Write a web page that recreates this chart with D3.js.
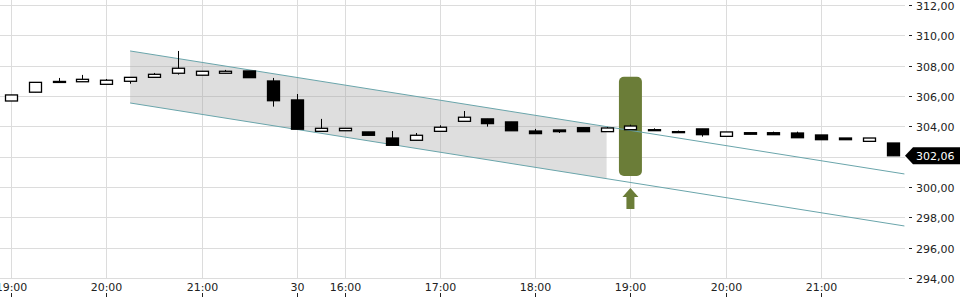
<!DOCTYPE html>
<html>
<head>
<meta charset="utf-8">
<script src="https://cdn.jsdelivr.net/npm/d3@7/dist/d3.min.js"></script>
<style>
  body { margin: 0; background: #fff; }
  svg { display: block; font-family: "DejaVu Sans", sans-serif; }
</style>
</head>
<body>
<svg id="chart" width="960" height="300"></svg>
<script>
// 15-minute candles, index 0 = 19:00 on day 29, index 12 = 15:30 on day 30
const opens  = [305.67, 306.25, 306.90, 306.94, 306.77, 306.97, 307.23, 307.50, 307.37, 307.50,
                307.65, 306.99, 305.74, 303.67, 303.71, 303.63, 303.23, 303.08, 303.67, 304.33,
                304.49, 304.29, 303.69, 303.76, 303.91, 303.65, 303.78, 303.74, 303.60, 303.83,
                303.34, 303.58, 303.58, 303.56, 303.43, 303.23, 303.01, 302.90];
const closes = [306.07, 306.90, 306.96, 307.10, 307.04, 307.23, 307.43, 307.83, 307.63, 307.63,
                307.21, 305.69, 303.81, 303.87, 303.87, 303.41, 302.75, 303.41, 303.94, 304.60,
                304.18, 303.71, 303.52, 303.65, 303.65, 303.89, 304.02, 303.78, 303.65, 303.45,
                303.63, 303.48, 303.45, 303.25, 303.12, 303.12, 303.23, 302.06];
const highs  = [306.07, 306.90, 307.19, 307.39, 307.12, 307.23, 307.52, 308.97, 307.63, 307.72,
                307.65, 307.19, 306.13, 304.49, 303.87, 303.63, 303.69, 303.56, 304.07, 305.01,
                304.49, 304.29, 303.83, 303.76, 303.91, 303.96, 304.11, 303.87, 303.72, 303.83,
                303.63, 303.58, 303.65, 303.65, 303.43, 303.23, 303.23, 302.90];
const lows   = [305.67, 306.25, 306.90, 306.94, 306.77, 306.81, 307.23, 307.41, 307.37, 307.50,
                307.21, 305.30, 303.81, 303.67, 303.71, 303.41, 302.75, 303.08, 303.67, 304.33,
                303.98, 303.71, 303.52, 303.56, 303.65, 303.65, 303.78, 303.74, 303.60, 303.32,
                303.34, 303.48, 303.45, 303.25, 303.12, 303.12, 303.01, 302.06];

const tickIdx    = [0, 4, 8, 12, 14, 18, 22, 26, 30, 34];
const tickLabels = ['19:00', '20:00', '21:00', '30', '16:00', '17:00', '18:00', '19:00', '20:00', '21:00'];
const priceTicks = [294, 296, 298, 300, 302, 304, 306, 308, 310, 312];

// trend channel: [index, upper, lower]
const channelStart = [5, 308.97, 305.54];
const channelEnd   = [37.5, 300.86, 297.43];
const shadeEndIdx  = 25;

// signal marker
const signalIdx = 26;
const signalTop = 307.27, signalBottom = 300.73;
const lastPrice = 302.06;

const svg = d3.select('#chart');
const x = d3.scaleLinear().domain([0, 37]).range([11, 892.5]);
const y = d3.scaleLinear().domain([294, 312]).range([278, 5]);
const fmt = v => d3.format('.2f')(v).replace('.', ',');
const PLOT_R = 905;

// grid
const grid = svg.append('g');
grid.selectAll('line.h').data(priceTicks).join('line')
  .attr('x1', 0).attr('x2', PLOT_R)
  .attr('y1', d => Math.round(y(d)) + 0.5).attr('y2', d => Math.round(y(d)) + 0.5)
  .attr('stroke', '#dcdcdc');
grid.selectAll('line.v').data(tickIdx).join('line')
  .attr('x1', d => Math.round(x(d)) + 0.5).attr('x2', d => Math.round(x(d)) + 0.5)
  .attr('y1', 0).attr('y2', 278)
  .attr('stroke', '#dcdcdc');

// channel shade (only up to shadeEndIdx)
const lerp = (a, b, t) => a + (b - a) * t;
const tEnd = (shadeEndIdx - channelStart[0]) / (channelEnd[0] - channelStart[0]);
const shadePts = [
  [x(channelStart[0]), y(channelStart[1])],
  [x(shadeEndIdx), y(lerp(channelStart[1], channelEnd[1], tEnd))],
  [x(shadeEndIdx), y(lerp(channelStart[2], channelEnd[2], tEnd))],
  [x(channelStart[0]), y(channelStart[2])]
];
svg.append('polygon')
  .attr('points', shadePts.map(p => p.join(',')).join(' '))
  .attr('fill', '#a0a0a0').attr('fill-opacity', 0.35);

// signal box
svg.append('rect')
  .attr('x', x(signalIdx) - 11.5).attr('width', 23)
  .attr('y', y(signalTop)).attr('height', y(signalBottom) - y(signalTop))
  .attr('rx', 5).attr('fill', '#6b7d38');

// up arrow below signal
const ax = x(signalIdx), ay = y(signalBottom) + 12;
svg.append('path')
  .attr('d', `M${ax},${ay} L${ax + 8},${ay + 9} L${ax + 4},${ay + 9} L${ax + 4},${ay + 21}
              L${ax - 4},${ay + 21} L${ax - 4},${ay + 9} L${ax - 8},${ay + 9} Z`)
  .attr('fill', '#6b7d38');

// channel lines
[1, 2].forEach(k => {
  svg.append('line')
    .attr('x1', x(channelStart[0])).attr('y1', y(channelStart[k]))
    .attr('x2', x(channelEnd[0])).attr('y2', y(channelEnd[k]))
    .attr('stroke', '#6aa5ab').attr('stroke-width', 1);
});

// candles
const candles = svg.append('g');
opens.forEach((o, i) => {
  const c = closes[i];
  const cx = Math.round(x(i)) + 0.5;
  candles.append('line')
    .attr('x1', cx).attr('x2', cx)
    .attr('y1', y(highs[i])).attr('y2', y(lows[i]))
    .attr('stroke', '#000');
  const top = y(Math.max(o, c)), bot = y(Math.min(o, c));
  candles.append('rect')
    .attr('x', cx - 6).attr('width', 12)
    .attr('y', top).attr('height', Math.max(1, bot - top))
    .attr('fill', c >= o ? '#fff' : '#000')
    .attr('stroke', '#000').attr('stroke-width', 1.3);
});

// y axis labels
const yAxis = svg.append('g');
priceTicks.forEach(p => {
  const yy = Math.round(y(p)) + 0.5;
  yAxis.append('line').attr('x1', 909).attr('x2', 912).attr('y1', yy).attr('y2', yy).attr('stroke', '#222');
  yAxis.append('text').attr('x', 916).attr('y', yy + 4)
    .attr('font-size', 11).attr('fill', '#222').text(fmt(p));
});

// last price tag
const ty = y(lastPrice);
svg.append('polygon')
  .attr('points', `905,${ty} 913,${ty - 8.5} 960,${ty - 8.5} 960,${ty + 8.5} 913,${ty + 8.5}`)
  .attr('fill', '#000');
svg.append('text').attr('x', 916).attr('y', ty + 4)
  .attr('font-size', 11).attr('fill', '#fff').text(fmt(lastPrice));

// x axis labels
const xAxis = svg.append('g');
tickIdx.forEach((t, k) => {
  const xx = Math.round(x(t)) + 0.5;
  xAxis.append('text').attr('x', xx).attr('y', 291)
    .attr('text-anchor', 'middle').attr('font-size', 11).attr('fill', '#222')
    .text(tickLabels[k]);
  xAxis.append('line').attr('x1', xx).attr('x2', xx).attr('y1', 293).attr('y2', 297)
    .attr('stroke', '#222');
});
</script>
</body>
</html>
